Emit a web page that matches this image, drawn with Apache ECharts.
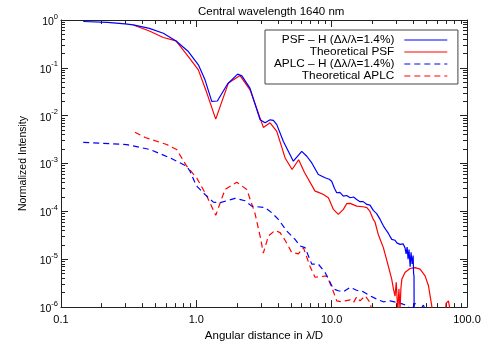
<!DOCTYPE html>
<html><head><meta charset="utf-8">
<script src="https://cdn.jsdelivr.net/npm/echarts@6/dist/echarts.min.js"></script>
<style>html,body{margin:0;padding:0;background:#fff}#c{width:485px;height:347px}</style>
</head><body><div id="c"></div>
<script>
// ---- data ----
const psfX = [0.146,0.22,0.297,0.342,0.45,0.57,0.708,0.873,1.035,1.159,1.30,1.43,1.70,2.02,2.17,2.49,2.96,3.22,3.51,3.71,3.93,4.40,5.21,6.01,6.55,7.13,7.97,8.94,9.6,10.0,10.5,10.9,11.5,12.2,12.9,13.7,14.5,15.3,16.2,17.1,18.2,19.2,20.3,21.5,22.8,24.1,25.5,26.2,27.0,27.8,28.6,29.4,30.3,31.1,32.0,33.0,33.7,34.8,35.5,36.1,36.7,37.3,38.0,38.6,39.3,40.0,40.3,40.6,40.7];
const psfY = [0.93,0.89,0.83,0.79,0.67,0.53,0.365,0.219,0.1155,0.0562,0.0199,0.0203,0.046,0.0739,0.068,0.0378,0.00825,0.0071,0.0082,0.0080,0.0065,0.0029,0.00112,0.0018,0.00142,0.00103,0.00059,0.000504,0.00047,0.000428,0.00030,0.000245,0.00025,0.000209,0.000215,0.000193,0.0002,0.000178,0.00016,0.00016,0.00014,0.000135,0.000105,0.00009,0.000068,0.00005,0.000039,0.000035,0.00003,0.000026,0.000024,0.000025,0.000022,0.000023,0.0000205,0.0000195,0.000021,0.0000175,0.000013,0.000018,0.00001,0.000016,0.000007,0.000014,0.000008,0.000012,0.000005,0.0000045,0.0000005];

const thPsfX = [0.342,0.45,0.57,0.708,0.873,1.035,1.20,1.391,1.724,2.104,2.494,3.128,3.506,3.93,4.53,5.1,5.7,6.3,7.54,8.0,8.69,9.46,10.3,11.2,12.2,12.9,13.7,15.3,17.1,18.2,19.2,20.3,20.9,22.1,24.1,26.2,27.8,28.6,29.4,30.0,30.3,30.8,31.4,32.0,32.5,33.0,34.8,37.9,41.3,45.0,49.0,51.9,54.9,56.0,68.5,70.0,72.9,75.0,77.6];
const thPsfY = [0.787,0.59,0.43,0.365,0.172,0.0908,0.029,0.0085,0.048,0.0691,0.0348,0.0057,0.0071,0.0047,0.00131,0.00075,0.0012,0.00065,0.000265,0.00025,0.000226,0.000193,0.00011,0.0000866,0.00011,0.000145,0.000147,0.000129,0.000125,0.00012,0.0001,0.000068,0.00006,0.000033,0.0000175,0.00000725,0.0000038,0.0000024,0.0000017,0.0000033,0.0000033,0.0000008,0.0000024,0.0000009,0.0000025,0.0000038,0.0000053,0.0000064,0.0000067,0.0000062,0.0000045,0.0000028,0.00000106,0.0000003,0.0000003,0.0000012,0.00000135,0.00000125,0.0000005];

const aplcX = [0.146,0.306,0.455,0.640,0.849,0.898,0.977,1.007,1.159,1.336,1.496,1.932,2.292,2.566,3.219,3.608,4.039,4.656,5.365,5.84,6.36,7.13,7.97,8.94,10.3,11.2,12.2,13.7,15.3,17.1,19.2,21.5,24.1,27.0,30.3,33.7,36.7,38.6,41.3,44.0,47.6,51.0];
const aplcY = [0.00278,0.00249,0.00196,0.00131,0.000879,0.00069,0.0004,0.000337,0.000226,0.000156,0.000152,0.000187,0.000167,0.000129,0.00012,0.000094,0.000068,0.000039,0.000026,0.000019,0.0000175,0.0000079,0.0000079,0.0000053,0.0000024,0.0000022,0.0000021,0.0000026,0.00000225,0.0000021,0.00000172,0.00000147,0.00000129,0.00000135,0.00000125,0.00000115,0.00000106,0.0000008,0.0000012,0.0000008,0.0000011,0.0000007];

const thAplcX = [0.352,0.418,0.604,0.716,0.849,1.007,1.194,1.391,1.629,1.99,2.359,2.716,2.958,3.128,3.407,3.816,4.156,4.525,4.93,5.07,5.675,6.181,6.93,7.537,8.45,9.2,10.02,10.9,11.9,12.6,13.7,14.5,15.3,16.2,17.7,19.2,20.3];
const thAplcY = [0.0045,0.0035,0.0025,0.00196,0.00088,0.0005,0.00021,0.000083,0.000287,0.000408,0.000287,0.00009,0.0000306,0.0000135,0.0000306,0.00004,0.000036,0.000025,0.000016,0.0000138,0.000013,0.0000175,0.000007,0.0000042,0.00000436,0.0000045,0.0000026,0.00000135,0.00000129,0.00000135,0.00000142,0.00000125,0.00000164,0.00000135,0.00000172,0.00000125,0.0000006];

const seriesNames = ['PSF – H (Δλ/λ=1.4%)','Theoretical PSF','APLC – H (Δλ/λ=1.4%)','Theoretical APLC'];
const xMajorTicks = [0.1, 1, 10, 100];
const xTickLabels = ['0.1','1.0','10.0','100.0'];
const yMajorTicks = [1e-6,1e-5,1e-4,1e-3,1e-2,1e-1,1];
const yTickExps = ['-6','-5','-4','-3','-2','-1','0'];
const titleText = 'Central wavelength 1640 nm';
const xName = 'Angular distance in λ/D';
const yName = 'Normalized Intensity';

// minor ticks 2..9 within each decade
function minors(majors){const out=[];for(let i=0;i<majors.length-1;i++){for(let k=2;k<=9;k++){out.push(+(majors[i]*k).toPrecision(6));}}return out;}
const xMinorTicks = minors(xMajorTicks);
const yMinorTicks = minors(yMajorTicks);

const zip = (a,b)=>a.map((v,i)=>[v,b[i]]);
const FONT = 'Liberation Sans, Arial, sans-serif';
const AX = '#222';

function xAxisDef(pos, major, showLabel){
  return {type:'log', position:pos, min:0.1, max:100, logBase:10,
    axisLine:{show:major, lineStyle:{color:AX,width:1}},
    axisTick:{show:true, inside:true, length: major?7:4, customValues: major?xMajorTicks:xMinorTicks, lineStyle:{color:AX,width:1}},
    axisLabel:{show:showLabel, customValues:xMajorTicks, color:'#000', fontFamily:FONT, fontSize:11, margin:7,
      formatter:(v)=>{const i=xMajorTicks.findIndex(t=>Math.abs(Math.log10(t)-Math.log10(v))<1e-6);return i>=0?xTickLabels[i]:'';}},
    splitLine:{show:false}, minorTick:{show:false},
    name: showLabel? xName : '', nameLocation:'middle', nameGap:19,
    nameTextStyle:{color:'#000', fontFamily:FONT, fontSize:11.5}};
}
function yAxisDef(pos, major, showLabel){
  return {type:'log', position:pos, min:1e-6, max:1, logBase:10,
    axisLine:{show:major, lineStyle:{color:AX,width:1}},
    axisTick:{show:true, inside:true, length: major?7:4, customValues: major?yMajorTicks:yMinorTicks, lineStyle:{color:AX,width:1}},
    axisLabel:{show:showLabel, customValues:yMajorTicks, margin:3, fontFamily:FONT,
      formatter:(v)=>{const i=yMajorTicks.findIndex(t=>Math.abs(Math.log10(t)-Math.log10(v))<1e-6);return i>=0?('{b|10}{s|'+yTickExps[i]+'}'):'';},
      rich:{b:{fontSize:10.5,color:'#000',fontFamily:FONT,verticalAlign:'bottom',lineHeight:15},
            s:{fontSize:7.5,color:'#000',fontFamily:FONT,verticalAlign:'top',lineHeight:15}}},
    splitLine:{show:false}, minorTick:{show:false},
    name: showLabel? yName : '', nameLocation:'middle', nameGap:31,
    nameTextStyle:{color:'#000', fontFamily:FONT, fontSize:10.5}};
}

const chart = echarts.init(document.getElementById('c'), null, {renderer:'canvas'});
const dashed = [6,4];
chart.setOption({
  animation:false,
  backgroundColor:'#fff',
  title:{text:titleText, left:193, top:1, textStyle:{fontFamily:FONT,fontSize:11.5,fontWeight:'normal',color:'#000'}},
  grid:{left:61,right:18,top:20,bottom:39,containLabel:false},
  legend:{orient:'vertical', left:265, top:30, align:'right', data:[seriesNames[0],seriesNames[1],seriesNames[2],seriesNames[3]],
    itemWidth:43, itemHeight:11, itemGap:0, padding:[4,10,2,9],
    backgroundColor:'#fff', borderColor:'#444', borderWidth:1, borderRadius:0,
    itemStyle:{color:'rgba(0,0,0,0)', borderColor:'rgba(0,0,0,0)', borderWidth:0},
    lineStyle:{width:1.2},
    textStyle:{fontFamily:FONT,fontSize:11.8,lineHeight:11,color:'#000',padding:[0,5,0,0]}},
  xAxis:[xAxisDef('bottom',true,true), xAxisDef('bottom',false,false), xAxisDef('top',true,false), xAxisDef('top',false,false)],
  yAxis:[yAxisDef('left',true,true), yAxisDef('left',false,false), yAxisDef('right',true,false), yAxisDef('right',false,false)],
  series:[
    {name:seriesNames[3], type:'line', data:zip(thAplcX,thAplcY), symbol:'none', showSymbol:false, clip:true,
      lineStyle:{color:'#ff0000',width:1.2,type:dashed}, itemStyle:{color:'#ff0000'}},
    {name:seriesNames[2], type:'line', data:zip(aplcX,aplcY), symbol:'none', showSymbol:false, clip:true,
      lineStyle:{color:'#0000ff',width:1.2,type:dashed}, itemStyle:{color:'#0000ff'}},
    {name:seriesNames[1], type:'line', data:zip(thPsfX,thPsfY), symbol:'none', showSymbol:false, clip:true,
      lineStyle:{color:'#ff0000',width:1.2}, itemStyle:{color:'#ff0000'}},
    {name:seriesNames[0], type:'line', data:zip(psfX,psfY), symbol:'none', showSymbol:false, clip:true,
      lineStyle:{color:'#0000ff',width:1.2}, itemStyle:{color:'#0000ff'}}
  ]
});
</script></body></html>
